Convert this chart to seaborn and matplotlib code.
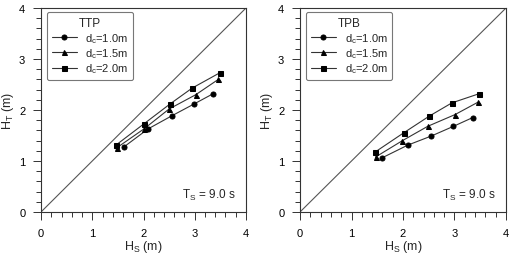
import matplotlib
matplotlib.use("Agg")
import matplotlib.pyplot as plt
import seaborn as sns
import pandas as pd
from matplotlib.ticker import MultipleLocator

sns.set_style("ticks")
plt.rcParams['font.family'] = ['Liberation Sans', 'DejaVu Sans']
plt.rcParams['mathtext.fontset'] = 'custom'
plt.rcParams['mathtext.rm'] = 'Liberation Sans'
plt.rcParams['mathtext.it'] = 'Liberation Sans'

panels = ["TTP", "TPB"]
series_labels = ["d$_c$=1.0m", "d$_c$=1.5m", "d$_c$=2.0m"]
markers = ["o", "^", "s"]

ttp_x = [[1.61, 2.09, 2.56, 2.99, 3.36],
         [1.48, 2.01, 2.50, 3.02, 3.46],
         [1.46, 2.01, 2.52, 2.95, 3.49]]
ttp_y = [[1.27, 1.63, 1.89, 2.12, 2.32],
         [1.26, 1.63, 2.02, 2.30, 2.60],
         [1.31, 1.73, 2.12, 2.43, 2.73]]
tpb_x = [[1.59, 2.09, 2.55, 2.98, 3.35],
         [1.47, 1.99, 2.48, 3.01, 3.45],
         [1.45, 2.01, 2.51, 2.95, 3.48]]
tpb_y = [[1.06, 1.31, 1.49, 1.68, 1.85],
         [1.08, 1.40, 1.68, 1.91, 2.15],
         [1.17, 1.55, 1.88, 2.14, 2.32]]
diag = [0, 4]

fig = plt.figure(figsize=(5.1, 2.55), dpi=100)
W, H = 510, 255
boxes = [(41, 9, 246, 213), (300, 9, 506, 213)]

for (pname, xs, ys), (x0, y0, x1, y1) in zip(
        [("TTP", ttp_x, ttp_y), ("TPB", tpb_x, tpb_y)], boxes):
    ax = fig.add_axes([x0 / W, 1 - y1 / H, (x1 - x0) / W, (y1 - y0) / H])
    ax.plot(diag, diag, color="#555555", lw=0.8)
    for lab, mk, x, y in zip(series_labels, markers, xs, ys):
        df = pd.DataFrame({"x": x, "y": y})
        sns.lineplot(data=df, x="x", y="y", ax=ax, marker=mk, color="#333333",
                     lw=0.8, markersize=3.6, markeredgecolor="black",
                     markerfacecolor="black", sort=False, label=lab)
    ax.set_xlim(0, 4)
    ax.set_ylim(0, 4)
    ax.xaxis.set_major_locator(MultipleLocator(1))
    ax.yaxis.set_major_locator(MultipleLocator(1))
    ax.xaxis.set_minor_locator(MultipleLocator(0.2))
    ax.yaxis.set_minor_locator(MultipleLocator(0.2))
    ax.tick_params(which="major", direction="out", length=5.8, width=0.7,
                   labelsize=8, pad=5.5, colors="#333333", labelcolor="black")
    ax.tick_params(which="minor", direction="out", length=3.5, width=0.7,
                   colors="#333333")
    for s in ax.spines.values():
        s.set_linewidth(0.8)
        s.set_color("#333333")
    ax.set_xlabel("H$_S$ (m)", fontsize=9, labelpad=0.5)
    ax.set_ylabel("H$_T$ (m)", fontsize=9, labelpad=2.5)
    leg = ax.legend(title=pname, loc="upper left", fontsize=8,
                    title_fontsize=8.5, frameon=True, fancybox=True,
                    edgecolor="#555555", handlelength=2.2, handletextpad=0.8,
                    borderpad=0.45, labelspacing=0.15, borderaxespad=0,
                    bbox_to_anchor=(0.03, 0.98))
    leg.get_frame().set_linewidth(0.8)
    ax.text(0.95, 0.085, "T$_S$ = 9.0 s", transform=ax.transAxes,
            ha="right", va="center", fontsize=8.5)

fig.savefig("out.png", dpi=100)
